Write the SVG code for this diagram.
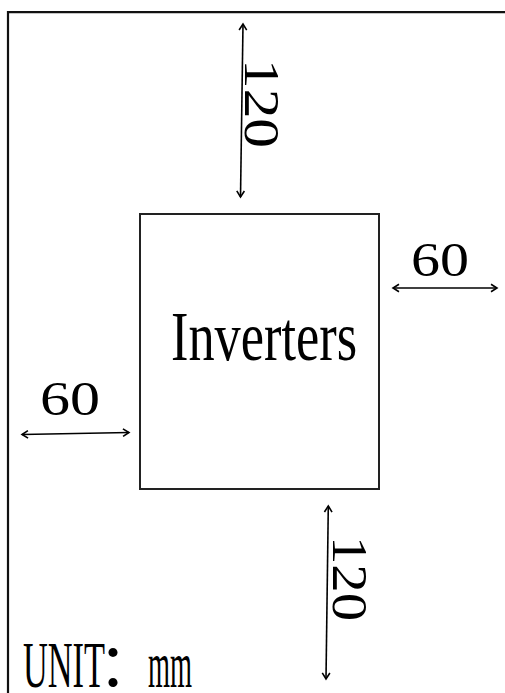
<svg xmlns="http://www.w3.org/2000/svg" width="505" height="693" viewBox="0 0 505 693">
  <style>
    .frame { fill: none; stroke: #111; stroke-width: 2.2; }
    .box { fill: #fff; stroke: #222; stroke-width: 2; }
    .dim { fill: none; stroke: #000; stroke-width: 1.6; marker-start: url(#arr); marker-end: url(#arr); }
    .lbl { font-family: "Liberation Serif", "Noto Sans CJK SC", serif; fill: #000; }
  </style>
  <defs>
    <marker id="arr" viewBox="-8 -5 10 10" refX="0" refY="0" markerWidth="10" markerHeight="10" markerUnits="userSpaceOnUse" orient="auto-start-reverse">
      <path d="M -6 -3.8 L 0 0 L -6 3.8" fill="none" stroke="#000" stroke-width="1.6" stroke-linejoin="miter"/>
    </marker>
  </defs>
  <rect width="505" height="693" fill="#fff"/>
  <g id="frame">
    <polyline class="frame" points="8,693 8,12.2 505,12.2"/>
  </g>
  <g id="inverters">
    <rect class="box" x="140" y="214" width="239" height="275"/>
    <text class="lbl" x="171" y="360" font-size="70" textLength="186" lengthAdjust="spacingAndGlyphs">Inverters</text>
  </g>
  <g id="connectors">
    <line class="dim" x1="243" y1="24" x2="240.5" y2="197"/>
    <line class="dim" x1="328.3" y1="506" x2="326" y2="679"/>
    <line class="dim" x1="393" y1="288" x2="497" y2="288"/>
    <line class="dim" x1="22" y1="434.5" x2="129" y2="432.5"/>
  </g>
  <g id="labels">
    <text class="lbl" font-size="51" transform="translate(245,59) rotate(90)" textLength="89" lengthAdjust="spacingAndGlyphs">120</text>
    <text class="lbl" font-size="51" transform="translate(333,536) rotate(90)" textLength="85" lengthAdjust="spacingAndGlyphs">120</text>
    <text class="lbl" x="411" y="276" font-size="49" textLength="58" lengthAdjust="spacingAndGlyphs">60</text>
    <text class="lbl" x="40" y="415" font-size="49" textLength="60" lengthAdjust="spacingAndGlyphs">60</text>
  </g>
  <g id="unit">
    <text class="lbl" y="687" font-size="66"><tspan x="23" textLength="82" lengthAdjust="spacingAndGlyphs">UNIT</tspan><tspan x="98" font-family="'Noto Sans CJK SC', sans-serif" font-size="60">：</tspan><tspan x="148" textLength="44" lengthAdjust="spacingAndGlyphs">mm</tspan></text>
  </g>
</svg>
